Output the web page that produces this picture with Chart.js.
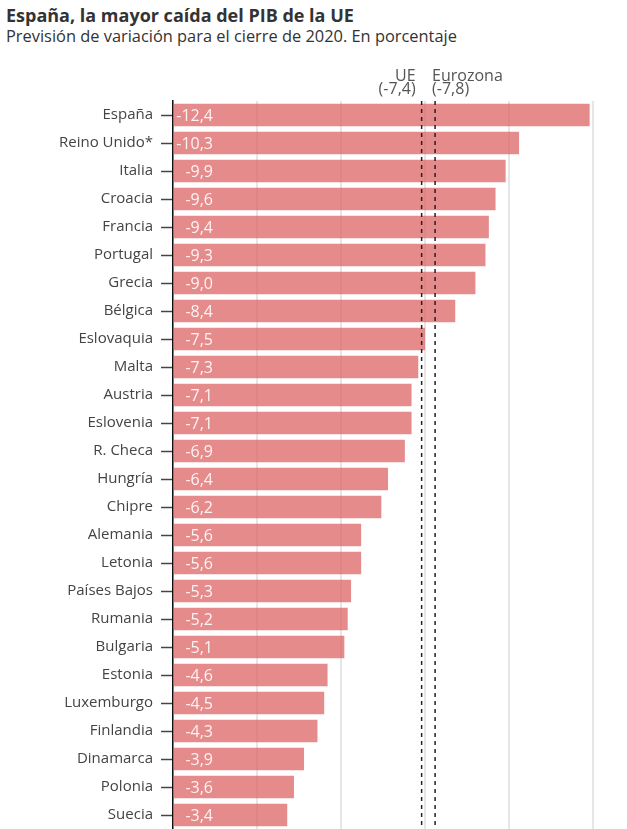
<!DOCTYPE html>
<html>
<head>
<meta charset="utf-8">
<script src="https://cdn.jsdelivr.net/npm/chart.js@4.4.0/dist/chart.umd.min.js"></script>
<style>
  body { margin: 0; background: #fff; overflow: hidden; font-family: 'Open Sans', sans-serif; }
  #title { position: absolute; left: 6px; top: 3px; font-weight: bold; font-size: 18px; line-height: 24px; color: #333; white-space: nowrap; }
  #subtitle { position: absolute; left: 6px; top: 25px; font-size: 16.4px; line-height: 22px; color: #333; white-space: nowrap; }
  #chart { position: absolute; left: 0; top: 0; }
</style>
</head>
<body>
<div id="title">España, la mayor caída del PIB de la UE</div>
<div id="subtitle">Previsión de variación para el cierre de 2020. En porcentaje</div>
<canvas id="chart" width="627" height="874"></canvas>
<script>
// Previsión de variación del PIB 2020 (%)
const countries = [
  'España', 'Reino Unido*', 'Italia', 'Croacia', 'Francia', 'Portugal', 'Grecia',
  'Bélgica', 'Eslovaquia', 'Malta', 'Austria', 'Eslovenia', 'R. Checa', 'Hungría',
  'Chipre', 'Alemania', 'Letonia', 'Países Bajos', 'Rumania', 'Bulgaria', 'Estonia',
  'Luxemburgo', 'Finlandia', 'Dinamarca', 'Polonia', 'Suecia', 'Lituania'
];
const variation = [
  -12.4, -10.3, -9.9, -9.6, -9.4, -9.3, -9.0,
  -8.4, -7.5, -7.3, -7.1, -7.1, -6.9, -6.4,
  -6.2, -5.6, -5.6, -5.3, -5.2, -5.1, -4.6,
  -4.5, -4.3, -3.9, -3.6, -3.4, -2.2
];
const refNames = ['UE', 'Eurozona'];
const refValues = [-7.4, -7.8];
const xTicks = [0, 2.5, 5, 7.5, 10, 12.5];

const fmt = v => v.toFixed(1).replace('.', ',');

Chart.defaults.font.family = "'Open Sans', sans-serif";

// white value labels inside the bars
const valueLabels = {
  id: 'valueLabels',
  afterDatasetsDraw(chart) {
    const ctx = chart.ctx;
    const x0 = chart.scales.x.getPixelForValue(0);
    ctx.save();
    ctx.font = "16px 'Open Sans'";
    ctx.fillStyle = 'rgba(255,255,255,0.9)';
    ctx.textAlign = 'right';
    ctx.textBaseline = 'middle';
    chart.getDatasetMeta(0).data.forEach((bar, i) => {
      ctx.fillText(fmt(variation[i]), x0 + 40, bar.y + 1);
    });
    ctx.restore();
  }
};

// dashed reference lines for UE and Eurozona
const refLines = {
  id: 'refLines',
  afterDatasetsDraw(chart) {
    const ctx = chart.ctx;
    const area = chart.chartArea;
    ctx.save();
    refValues.forEach((v, i) => {
      const x = chart.scales.x.getPixelForValue(-v);
      ctx.strokeStyle = '#222';
      ctx.lineWidth = 1.5;
      ctx.setLineDash([4, 4]);
      ctx.beginPath();
      ctx.moveTo(x, area.top);
      ctx.lineTo(x, area.bottom);
      ctx.stroke();

      ctx.setLineDash([]);
      ctx.font = "16px 'Open Sans'";
      ctx.fillStyle = '#555';
      ctx.textBaseline = 'middle';
      ctx.textAlign = i === 0 ? 'right' : 'left';
      const tx = i === 0 ? x - 6 : x - 3;
      ctx.fillText(refNames[i], tx, 76);
      ctx.fillText('(' + fmt(v) + ')', tx, 89);
    });
    ctx.restore();
  }
};

new Chart(document.getElementById('chart'), {
  type: 'bar',
  data: {
    labels: countries,
    datasets: [{
      data: variation.map(v => -v),
      backgroundColor: 'rgba(220,100,102,0.75)',
      borderWidth: 0,
      barPercentage: 0.8,
      categoryPercentage: 1
    }]
  },
  options: {
    indexAxis: 'y',
    responsive: false,
    animation: false,
    layout: { padding: { top: 101, right: 34, left: 0, bottom: 0 } },
    plugins: {
      legend: { display: false },
      tooltip: { enabled: false }
    },
    scales: {
      x: {
        min: 0,
        max: 12.5,
        afterBuildTicks: scale => { scale.ticks = xTicks.map(v => ({ value: v })); },
        ticks: { display: false },
        grid: { color: '#e6e6e6', lineWidth: 2, drawTicks: false },
        border: { display: false },
        afterFit: scale => { scale.height = 0; }
      },
      y: {
        afterFit: scale => { scale.width = 173; },
        ticks: { color: '#444', font: { size: 15 }, padding: 8 },
        grid: { drawOnChartArea: false, offset: false, tickLength: 12, tickColor: '#444', tickWidth: 1.5 },
        border: { color: '#111', width: 1.5 }
      }
    }
  },
  plugins: [valueLabels, refLines]
});
</script>
</body>
</html>
